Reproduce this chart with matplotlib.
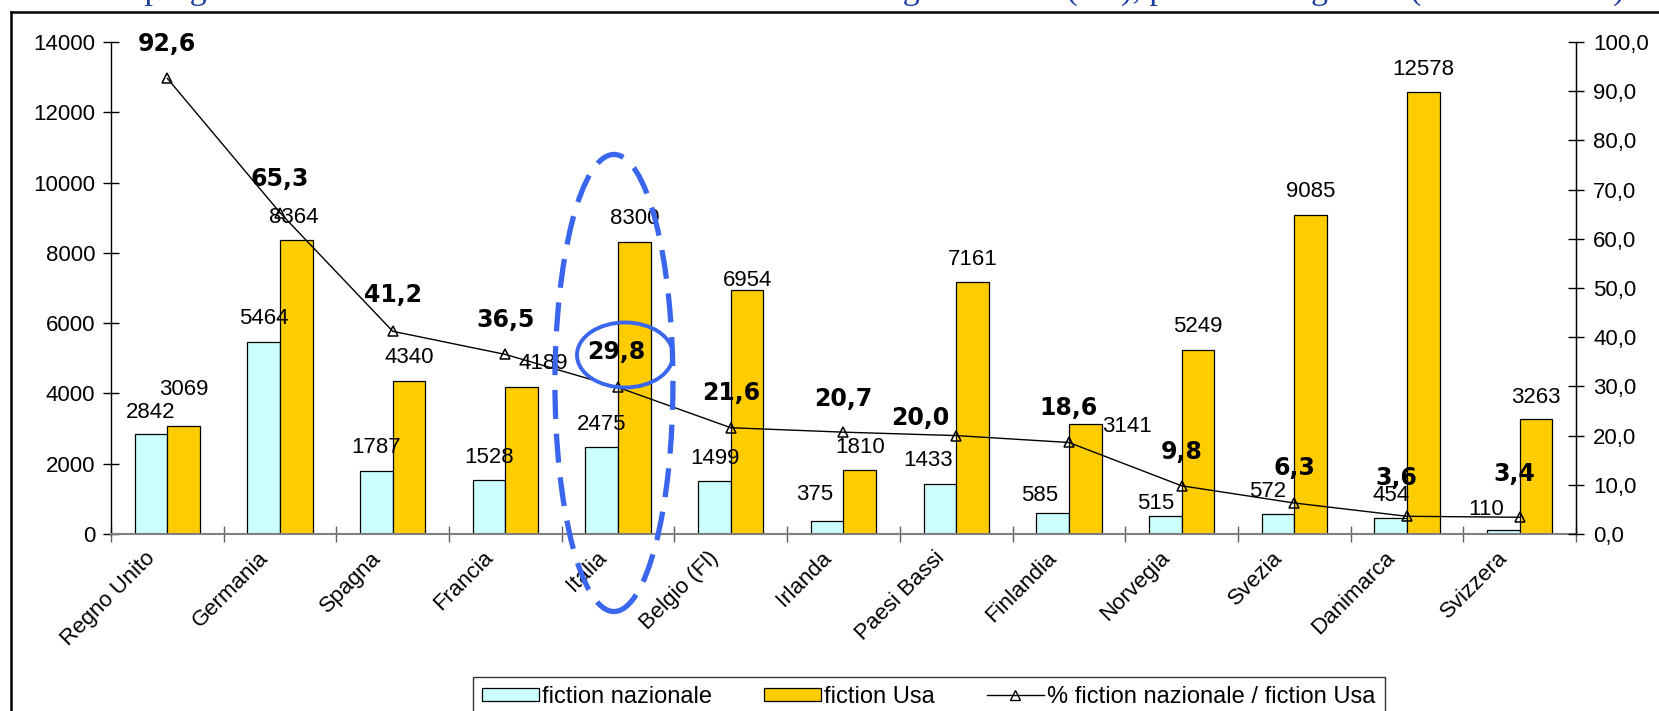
import matplotlib
matplotlib.use("Agg")
import matplotlib.pyplot as plt
from matplotlib.patches import Ellipse, Patch
from matplotlib.lines import Line2D
from matplotlib.ticker import FuncFormatter
import matplotlib.transforms as mtransforms
import numpy as np

# ---- data -------------------------------------------------------------
paesi = ["Regno Unito", "Germania", "Spagna", "Francia", "Italia", "Belgio (Fl)",
         "Irlanda", "Paesi Bassi", "Finlandia", "Norvegia", "Svezia", "Danimarca",
         "Svizzera"]
fiction_nazionale = [2842, 5464, 1787, 1528, 2475, 1499, 375, 1433, 585, 515, 572, 454, 110]
fiction_usa = [3069, 8364, 4340, 4189, 8300, 6954, 1810, 7161, 3141, 5249, 9085, 12578, 3263]
quota = [92.6, 65.3, 41.2, 36.5, 29.8, 21.6, 20.7, 20.0, 18.6, 9.8, 6.3, 3.6, 3.4]

serie_labels = ["fiction nazionale", "fiction Usa", "% fiction nazionale / fiction Usa"]
titolo = ("La programmazione di fiction nazionale e di fiction Usa negli Stati Ue "
          "(ore), per Paese e genere (valori assoluti)")

# label nudges in pixels (dx, dy) relative to the top of each mark
naz_nudge = [(0, 22), (0, 23), (0, 24), (0, 23), (0, 23), (0, 23), (-12, 26), (-12, 23),
             (-13, 18), (-10, 12), (-10, 22), (0, 23), (-17, 21)]
usa_nudge = [(0, 37), (-3, 23), (0, 24), (21, 23), (0, 24), (0, 9), (0, 23), (0, 23),
             (42, -3), (0, 23), (0, 23), (0, 22), (0, 22)]
quota_nudge = [(0, 34), (0, 34), (0, 36), (0, 34), (-2, 35), (0, 35), (0, 33), (-36, 18),
               (0, 34), (0, 34), (0, 35), (-11, 38), (-5, 43)]

# ---- style ------------------------------------------------------------
plt.rcParams["font.family"] = ["Liberation Sans", "DejaVu Sans"]
CYAN = "#CCFFFF"
GOLD = "#FFCC00"
BLUE = "#3A66EE"
W, H = 1659, 711

fig = plt.figure(figsize=(W / 100, H / 100), dpi=100)
fig.patch.set_facecolor("white")

ax = fig.add_axes([111 / W, (H - 534) / H, (1576 - 111) / W, (534 - 42) / H])
ax2 = ax.twinx()

x = np.arange(len(paesi))
bw = 0.29
ax.bar(x - bw / 2, fiction_nazionale, bw, color=CYAN, edgecolor="black", linewidth=0.9, zorder=2)
ax.bar(x + bw / 2, fiction_usa, bw, color=GOLD, edgecolor="black", linewidth=0.9, zorder=2)

ax.set_xlim(-0.5, len(paesi) - 0.5)
ax.set_ylim(0, 14000)
ax2.set_ylim(0, 100)

ax2.plot(x, quota, color="black", lw=1.0, marker="^", ms=7, mfc="none", mec="black",
         mew=1.1, zorder=5)

# value labels
for i in range(len(paesi)):
    dx, dy = naz_nudge[i]
    ax.annotate(str(fiction_nazionale[i]), (x[i] - bw / 2, fiction_nazionale[i]),
                xytext=(dx, dy), textcoords="offset pixels", ha="center", va="center",
                fontsize=16, zorder=3)
    dx, dy = usa_nudge[i]
    ax.annotate(str(fiction_usa[i]), (x[i] + bw / 2, fiction_usa[i]),
                xytext=(dx, dy), textcoords="offset pixels", ha="center", va="center",
                fontsize=16, zorder=3)
    dx, dy = quota_nudge[i]
    ax2.annotate(f"{quota[i]:.1f}".replace(".", ","), (x[i], quota[i]),
                 xytext=(dx, dy), textcoords="offset pixels", ha="center", va="center",
                 fontsize=17, fontweight="bold", family="DejaVu Sans", zorder=6)

# axes styling
for a in (ax, ax2):
    a.spines["top"].set_visible(False)
ax.spines["bottom"].set_color("#808080")
ax.spines["bottom"].set_linewidth(1.5)
ax2.spines["bottom"].set_visible(False)
ax.spines["left"].set_linewidth(1.0)
ax2.spines["right"].set_linewidth(1.0)
ax2.spines["left"].set_visible(False)

ax.set_yticks(np.arange(0, 14001, 2000))
ax.tick_params(axis="y", direction="inout", length=11, width=1, labelsize=16, pad=6)
ax2.set_yticks(np.arange(0, 101, 10))
ax2.yaxis.set_major_formatter(FuncFormatter(lambda v, p: f"{v:.1f}".replace(".", ",")))
ax2.tick_params(axis="y", direction="inout", length=11, width=1, labelsize=16, pad=7)

ax.set_xticks(np.arange(-0.5, len(paesi), 1.0))
ax.set_xticklabels([])
ax.tick_params(axis="x", which="major", direction="inout", length=12, width=1,
               color="#606060")
ax.set_xticks(x, minor=True)
ax.set_xticklabels(paesi, minor=True, rotation=45, ha="right", va="center",
                   rotation_mode="anchor", fontsize=16)
ax.tick_params(axis="x", which="minor", length=0, pad=15)
shift = mtransforms.ScaledTranslation(-15 / 100, 0, fig.dpi_scale_trans)
for lab in ax.get_xticklabels(minor=True):
    lab.set_transform(lab.get_transform() + shift)

# highlight around Italia
ax2.add_patch(Ellipse((3.963, 4297), 1.047, 13006, transform=ax.transData, fill=False,
                      edgecolor=BLUE, lw=3.8, linestyle=(0, (5.5, 2.8)), clip_on=False,
                      zorder=10))
ax2.add_patch(Ellipse((4.061, 5094), 0.852, 1850, transform=ax.transData, fill=False,
                      edgecolor=BLUE, lw=2.8, clip_on=False, zorder=10))

# legend
handles = [Patch(facecolor=CYAN, edgecolor="black", lw=0.9),
           Patch(facecolor=GOLD, edgecolor="black", lw=0.9),
           Line2D([], [], color="black", lw=1.0, marker="^", ms=7, mfc="none", mec="black")]
leg = fig.legend(handles, serie_labels, loc="upper left",
                 bbox_to_anchor=(473 / W, 1 - 677 / H), ncol=3, frameon=True,
                 fancybox=False, edgecolor="black", fontsize=17, handlelength=2.4,
                 handleheight=0.5, handletextpad=0.15, columnspacing=2.2,
                 borderpad=0.38, borderaxespad=0)
leg.get_frame().set_linewidth(1.0)

# chart frame and title strip
fig.add_artist(Line2D([11 / W, 1.01], [1 - 12 / H] * 2, transform=fig.transFigure,
                      color="black", lw=1.8))
fig.add_artist(Line2D([11 / W, 11 / W], [-0.01, 1 - 12 / H], transform=fig.transFigure,
                      color="black", lw=1.8))
fig.text(100 / W, 1 + 1 / H, titolo, color="#1A3C9E", fontsize=24.5,
         family="Liberation Serif", ha="left", va="baseline")

fig.savefig("out.png", dpi=100)
